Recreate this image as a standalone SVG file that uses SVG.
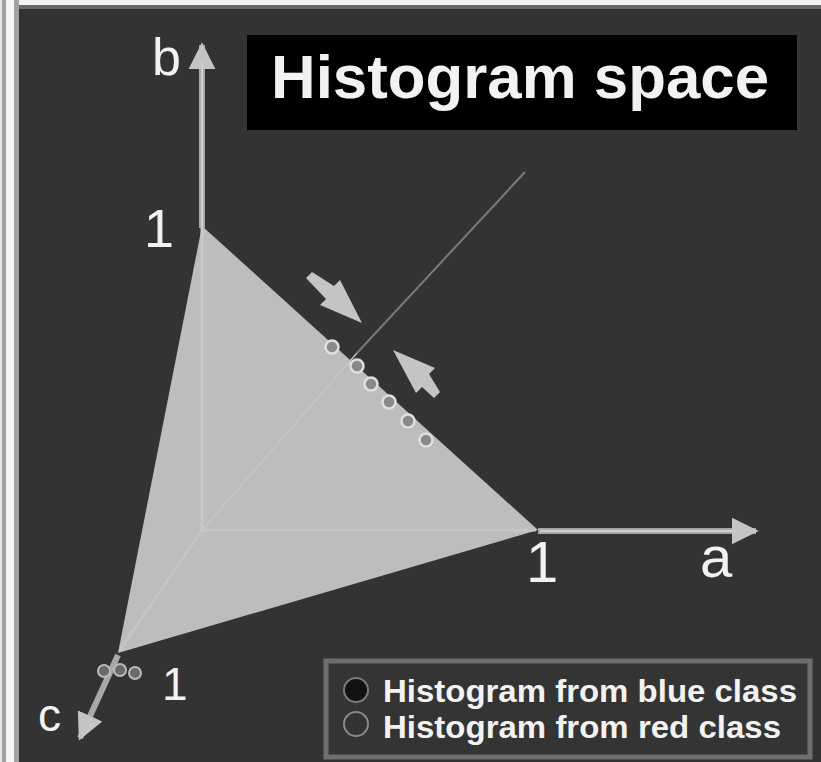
<svg xmlns="http://www.w3.org/2000/svg" width="821" height="762" viewBox="0 0 821 762">
<style>
.lbl{font-family:"Liberation Sans",Arial,sans-serif;fill:#f2f2f2}
.axis{stroke:#a8a8a8;stroke-width:6;fill:none}
.axisc{stroke:#cfcfcf;stroke-width:2;fill:none}
.pt{fill:#8a8a8a;stroke:#e0e0e0;stroke-width:2.5}
.pt2{fill:#6a6a6a;stroke:#bbbbbb;stroke-width:2}
</style>
<defs>
<marker id="ah" viewBox="0 0 10 10" refX="9" refY="5" markerWidth="4.5" markerHeight="4.5" orient="auto" markerUnits="strokeWidth">
<path d="M0,0 L10,5 L0,10 z" fill="#c4c4c4"/>
</marker>
</defs>
<rect x="0" y="0" width="821" height="762" fill="#333333"/>
<rect x="0" y="0" width="821" height="5" fill="#f4f4f4"/>
<rect x="0" y="5" width="821" height="4" fill="#6a6a6a"/>
<rect x="0" y="0" width="19" height="762" fill="#a2a2a2"/>
<rect x="0" y="0" width="2" height="762" fill="#e8e8e8"/>
<rect x="6" y="0" width="8" height="762" fill="#f6f6f6"/>

<g id="simplex">
<polygon points="202,226 538,530 118,653" fill="#bdbdbd"/>
<line x1="202" y1="228" x2="202" y2="530" stroke="#c9c9c9" stroke-width="3"/>
<line x1="202" y1="530" x2="536" y2="530" stroke="#c6c6c6" stroke-width="3"/>
<line x1="202" y1="530" x2="120" y2="650" stroke="#c6c6c6" stroke-width="3"/>
</g>

<g id="connectors">
<line x1="202" y1="530" x2="357" y2="353" stroke="#c6c6c6" stroke-width="1.5"/>
<line x1="357" y1="353" x2="525" y2="172" stroke="#7a7a7a" stroke-width="2"/>
<line class="axis" x1="202" y1="228" x2="202" y2="45" marker-end="url(#ah)"/>
<line class="axisc" x1="202" y1="228" x2="202" y2="62"/>
<line class="axis" x1="538" y1="531" x2="756" y2="531" marker-end="url(#ah)"/>
<line class="axisc" x1="540" y1="531" x2="735" y2="531"/>
<line class="axis" x1="118" y1="655" x2="80" y2="738" marker-end="url(#ah)"/>
<polygon points="312,272 334,286 340,280 362,323 320,305 326,299 306,278" fill="#c4c4c4"/>
<polygon points="393,350 435,368 429,374 440,392 434,398 422,387 416,393" fill="#c4c4c4"/>
</g>

<g id="points-red">
<circle class="pt" cx="332" cy="347" r="6.5"/>
<circle class="pt" cx="357" cy="366" r="6.5"/>
<circle class="pt" cx="371" cy="384" r="6.5"/>
<circle class="pt" cx="389" cy="402" r="6.5"/>
<circle class="pt" cx="408" cy="421" r="6.5"/>
<circle class="pt" cx="426" cy="440" r="6.5"/>
</g>
<g id="points-blue">
<circle class="pt2" cx="104" cy="671" r="6"/>
<circle class="pt2" cx="120" cy="670" r="6"/>
<circle class="pt2" cx="135" cy="673" r="6"/>
</g>

<g id="labels">
<text class="lbl" x="152" y="75" font-size="52">b</text>
<text class="lbl" x="144" y="247" font-size="54">1</text>
<text class="lbl" x="526" y="582" font-size="58">1</text>
<text class="lbl" x="700" y="577" font-size="58">a</text>
<text class="lbl" x="162" y="700" font-size="46">1</text>
<text class="lbl" x="38" y="731" font-size="46">c</text>
</g>

<g id="title">
<rect x="247" y="35" width="550" height="95" fill="#000000"/>
<text class="lbl" x="520" y="98" font-size="61" font-weight="bold" text-anchor="middle" fill="#ffffff" textLength="498" lengthAdjust="spacingAndGlyphs">Histogram space</text>
</g>

<g id="legend">
<rect x="326" y="661" width="484" height="96" fill="#343434" stroke="#6e6e6e" stroke-width="5"/>
<circle cx="356" cy="690" r="12" fill="#121212" stroke="#7a7a7a" stroke-width="2"/>
<circle cx="356" cy="724" r="12" fill="#333333" stroke="#8a8a8a" stroke-width="2"/>
<text class="lbl" x="383" y="702" font-size="32" font-weight="bold" textLength="414" lengthAdjust="spacingAndGlyphs">Histogram from blue class</text>
<text class="lbl" x="383" y="738" font-size="32" font-weight="bold" textLength="398" lengthAdjust="spacingAndGlyphs">Histogram from red class</text>
</g>
</svg>
